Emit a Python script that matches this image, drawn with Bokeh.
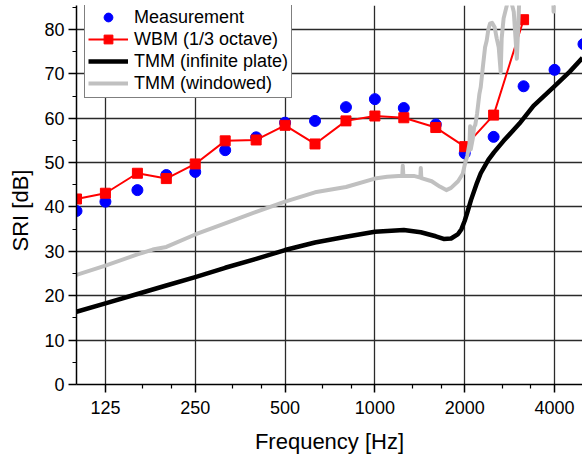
from bokeh.plotting import figure
from bokeh.models import FixedTicker, PrintfTickFormatter, Legend, LegendItem, Range1d, Title
from bokeh.embed import file_html
from bokeh.resources import INLINE

# ---- data ----
freq_meas = [100, 125, 160, 200, 250, 315, 400, 500, 630, 800, 1000, 1250, 1600, 2000, 2500, 3150, 4000, 5000]
sri_meas = [39.1, 41.2, 43.8, 47.2, 47.9, 52.8, 55.7, 59.0, 59.4, 62.5, 64.3, 62.3, 58.6, 52.1, 55.8, 67.2, 70.9, 76.7]

freq_wbm = [100, 125, 160, 200, 250, 315, 400, 500, 630, 800, 1000, 1250, 1600, 2000, 2500, 3150]
sri_wbm = [41.8, 43.1, 47.6, 46.4, 49.7, 54.9, 55.1, 58.4, 54.2, 59.4, 60.5, 60.1, 57.9, 53.6, 60.7, 82.2]

freq_inf = [100, 125, 160, 200, 250, 315, 400, 500, 630, 800, 1000, 1250, 1425, 1600, 1700, 1800, 1900, 1950,
            2000, 2050, 2100, 2200, 2263, 2400, 2506, 2700, 3050, 3400, 3970, 4500, 4963]
sri_inf = [16.4, 18.3, 20.4, 22.3, 24.2, 26.3, 28.3, 30.3, 32.0, 33.3, 34.4, 34.8, 34.3, 33.4, 32.8, 32.9, 33.9, 35.0,
           36.9, 39.2, 41.6, 45.5, 47.6, 50.6, 52.3, 54.9, 58.8, 62.8, 67.0, 70.5, 73.6]

freq_win = [100, 125, 160, 180, 200, 250, 315, 400, 500, 630, 800, 1000, 1100, 1200, 1235, 1240, 1246, 1350, 1420,
            1425, 1431, 1550, 1650, 1735, 1800, 1900, 1970, 2000, 2040, 2075, 2085, 2095, 2130, 2150, 2170, 2200,
            2240, 2263, 2300, 2340, 2370, 2400, 2430, 2470, 2520, 2560, 2600, 2640, 2660, 2700, 2770, 2820, 2870,
            2920, 2960, 2990, 3020, 3060, 3500, 3940, 3970, 4000, 5000]
sri_win = [24.7, 26.8, 29.3, 30.4, 31.0, 33.8, 36.3, 38.9, 41.2, 43.3, 44.5, 46.4, 46.8, 47.0, 47.0, 49.3, 47.0, 47.0,
           46.6, 48.8, 46.5, 45.8, 44.6, 43.8, 44.3, 45.8, 47.5, 49.5, 51.5, 54.3, 58.2, 53.0, 55.5, 58.0, 58.5, 61.0,
           65.5, 67.0, 71.5, 76.0, 77.5, 80.0, 81.3, 81.5, 80.5, 78.0, 76.0, 70.4, 78.0, 82.5, 85.5, 88.0, 86.0, 84.0,
           78.0, 73.4, 80.0, 90.0, 95.0, 95.0, 84.0, 95.0, 95.0]

x_ticks = [125, 250, 500, 1000, 2000, 4000]
x_minor = [166.67, 208.33, 333.33, 416.67, 666.67, 833.33, 1333.3, 1666.7, 2666.7, 3333.3]
y_ticks = [0, 10, 20, 30, 40, 50, 60, 70, 80]
y_minor = [5, 15, 25, 35, 45, 55, 65, 75, 85]

labels = ["Measurement", "WBM (1/3 octave)", "TMM (infinite plate)", "TMM (windowed)"]
x_title = "Frequency [Hz]"
y_title = "SRI [dB]"

FONT = "Liberation Sans"

p = figure(width=582, height=456, x_axis_type="log",
           x_range=Range1d(100, 4963), y_range=Range1d(0, 85.4),
           output_backend="svg", toolbar_location=None, title=None,
           min_border_left=75, min_border_right=0, min_border_top=5, min_border_bottom=71)
p.outline_line_color = None
p.background_fill_color = "white"

r_meas = p.scatter(freq_meas, sri_meas, marker="circle", size=11, fill_color="#0000ff", line_color="#0000ff")
r_wbm_l = p.line(freq_wbm, sri_wbm, line_color="#ff0000", line_width=2)
r_wbm_s = p.scatter(freq_wbm, sri_wbm, marker="square", size=10, fill_color="#ff0000", line_color="#ff0000")
r_inf = p.line(freq_inf, sri_inf, line_color="black", line_width=4.5, line_join="round")
r_win = p.line(freq_win, sri_win, line_color="#c0c0c0", line_width=4, line_join="round")

# axes
xa = p.xaxis[0]
xa.ticker = FixedTicker(ticks=x_ticks, minor_ticks=x_minor)
xa.formatter = PrintfTickFormatter(format="%d")
ya = p.yaxis[0]
ya.ticker = FixedTicker(ticks=y_ticks, minor_ticks=y_minor)

for ax in (xa, ya):
    ax.axis_line_color = "black"
    ax.axis_line_width = 1.5
    ax.major_tick_line_color = "black"
    ax.major_tick_line_width = 1.5
    ax.minor_tick_line_color = "black"
    ax.minor_tick_line_width = 1.2
    ax.major_tick_in = 0
    ax.major_tick_out = 8
    ax.minor_tick_in = 0
    ax.minor_tick_out = 4
    ax.major_label_text_font = FONT
    ax.major_label_text_font_size = "18px"
    ax.major_label_text_color = "black"
    ax.axis_label_text_font = FONT
    ax.axis_label_text_font_size = "22px"
    ax.axis_label_text_font_style = "normal"
    ax.axis_label_text_color = "black"

xa.axis_label = x_title
xa.major_label_standoff = 8
xa.axis_label_standoff = 12
ya.major_label_standoff = 4

# y title as a side title, started at the same height as in the reference
p.add_layout(Title(text=y_title, align="left", vertical_align="top", offset=133, standoff=14,
                   text_font=FONT, text_font_size="22px", text_font_style="normal",
                   text_color="black"), "left")

for g in (p.xgrid[0], p.ygrid[0]):
    g.grid_line_color = "#2a2a2a"
    g.grid_line_width = 1.3
    g.minor_grid_line_color = None

legend = Legend(items=[
    LegendItem(label=labels[0], renderers=[r_meas]),
    LegendItem(label=labels[1], renderers=[r_wbm_l, r_wbm_s]),
    LegendItem(label=labels[2], renderers=[r_inf]),
    LegendItem(label=labels[3], renderers=[r_win]),
], location=(8, 286))
legend.label_text_font = FONT
legend.label_text_font_size = "18px"
legend.label_text_color = "black"
legend.glyph_width = 40
legend.glyph_height = 22
legend.label_height = 22
legend.spacing = 0
legend.padding = 3
legend.margin = 0
legend.label_standoff = 6
legend.border_line_color = "black"
legend.border_line_width = 1
legend.background_fill_color = "white"
legend.background_fill_alpha = 1.0
p.add_layout(legend)

open("out.html", "w").write(file_html(p, INLINE))
